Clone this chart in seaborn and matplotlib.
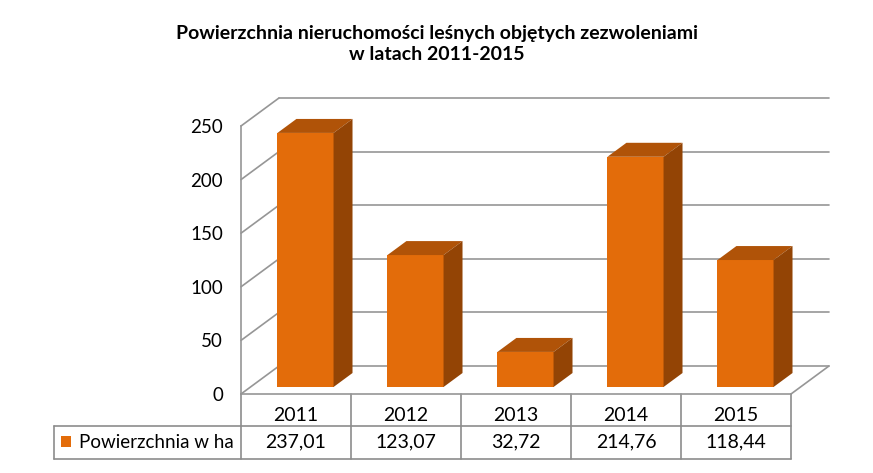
import matplotlib
matplotlib.use("Agg")
import matplotlib.pyplot as plt
import matplotlib.transforms as mtransforms
from matplotlib.patches import Polygon, Rectangle
import pandas as pd
import seaborn as sns

# data
years = ["2011", "2012", "2013", "2014", "2015"]
area_ha = [237.01, 123.07, 32.72, 214.76, 118.44]
value_labels = ["237,01", "123,07", "32,72", "214,76", "118,44"]
series_name = "Powierzchnia w ha"
title = "Powierzchnia nieruchomości leśnych objętych zezwoleniami\nw latach 2011-2015"
y_ticks = [0, 50, 100, 150, 200, 250]

# colours
FRONT = "#E36C0A"
TOP = "#B05308"
SIDE = "#934405"
GRID = "#969696"
TEXT = "#000000"

# fake 3d depth (category units, value units)
DEPTH_X = 0.345
DEPTH_Y = 26.1

sns.set_theme(style="white")
plt.rcParams["font.family"] = ["Lato", "DejaVu Sans"]

fig = plt.figure(figsize=(8.73, 4.73), dpi=100)
ax = fig.add_axes([241 / 873, 79 / 473, 550 / 873, 268 / 473])

df = pd.DataFrame({"rok": years, "pow": area_ha})
sns.barplot(data=df, x="rok", y="pow", color=FRONT, saturation=1, width=0.51,
            linewidth=0, ax=ax, zorder=3)

ax.set_xlim(-0.5, len(years) - 0.5)
ax.set_ylim(0, 250)

# move front faces into the middle of the depth and add top/side faces
for bar in ax.patches:
    bar.set_x(bar.get_x() + DEPTH_X / 4)
    bar.set_y(DEPTH_Y / 4)
    bar.set_clip_on(False)
    x0, b, w, h = bar.get_x(), bar.get_y(), bar.get_width(), bar.get_height()
    dx, dy = DEPTH_X / 2, DEPTH_Y / 2
    top = Polygon([(x0, b + h), (x0 + w, b + h), (x0 + w + dx, b + h + dy), (x0 + dx, b + h + dy)],
                  closed=True, facecolor=TOP, edgecolor="none", zorder=3, clip_on=False)
    side = Polygon([(x0 + w, b), (x0 + w + dx, b + dy), (x0 + w + dx, b + h + dy), (x0 + w, b + h)],
                   closed=True, facecolor=SIDE, edgecolor="none", zorder=3, clip_on=False)
    ax.add_patch(top)
    ax.add_patch(side)

# walls: left wall diagonals and back wall lines
x_left, x_right = -0.5, len(years) - 0.5
for v in y_ticks:
    ax.plot([x_left, x_left + DEPTH_X], [v, v + DEPTH_Y], color=GRID, lw=1.2, zorder=1, clip_on=False)
    ax.plot([x_left + DEPTH_X, x_right + DEPTH_X], [v + DEPTH_Y, v + DEPTH_Y],
            color=GRID, lw=1.2, zorder=1, clip_on=False)
ax.plot([x_right, x_right + DEPTH_X], [0, DEPTH_Y], color=GRID, lw=1.2, zorder=1, clip_on=False)

for side_name in ["top", "right"]:
    ax.spines[side_name].set_visible(False)
for side_name in ["left", "bottom"]:
    ax.spines[side_name].set_color(GRID)
    ax.spines[side_name].set_linewidth(1.2)
    ax.spines[side_name].set_zorder(2)

ax.set_yticks(y_ticks)
ax.set_yticklabels([str(t) for t in y_ticks])
ax.tick_params(axis="y", length=0, pad=13, labelsize=13.5, labelcolor=TEXT)
ax.set_xticks([])
ax.set_xlabel("")
ax.set_ylabel("")

# data table under the plot
tr = mtransforms.blended_transform_factory(ax.transData, ax.transAxes)
row_mid, row_bot = -32 / 268, -65 / 268
x_legend = -0.5 - 187 / 110
line_kw = dict(color="#8c8c8c", lw=1.2, transform=tr, clip_on=False)
for i in range(len(years) + 1):
    ax.plot([i - 0.5, i - 0.5], [0, row_bot], **line_kw)
ax.plot([x_legend, x_right], [row_mid, row_mid], **line_kw)
ax.plot([x_legend, x_right], [row_bot, row_bot], **line_kw)
ax.plot([x_legend, x_legend], [row_mid, row_bot], **line_kw)

for i, (yr, lab) in enumerate(zip(years, value_labels)):
    ax.text(i, -21 / 268, yr, transform=tr, ha="center", va="center", fontsize=14, color=TEXT)
    ax.text(i, -48 / 268, lab, transform=tr, ha="center", va="center", fontsize=14, color=TEXT)

ax.add_patch(Rectangle((-0.5 - 180 / 110, -53 / 268), 10 / 110, 11 / 268, transform=tr,
                       facecolor=FRONT, edgecolor="none", clip_on=False))
ax.text(-0.5 - 162 / 110, -48 / 268, series_name, transform=tr, ha="left", va="center",
        fontsize=13.5, color=TEXT)

fig.text(0.5, 1 - 44 / 473, title, ha="center", va="center", fontsize=14,
         fontweight="bold", color=TEXT, linespacing=1.3)

fig.savefig("out.png", dpi=100)
